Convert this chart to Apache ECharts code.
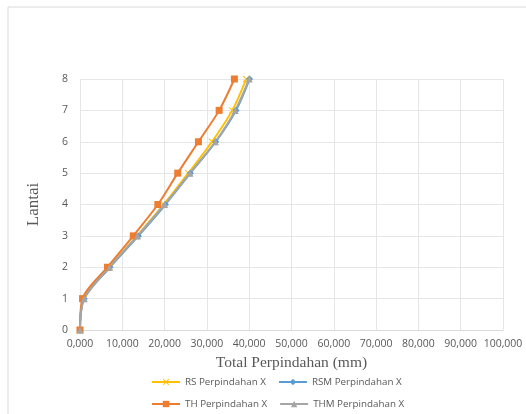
<!DOCTYPE html>
<html>
<head>
<meta charset="utf-8">
<script src="https://cdn.jsdelivr.net/npm/echarts@6/dist/echarts.min.js"></script>
<style>html,body{margin:0;padding:0;background:#fff}#c{width:526px;height:414px}</style>
</head>
<body>
<div id="c"></div>
<script>
var floors = [0, 1, 2, 3, 4, 5, 6, 7, 8];
var rsX  = [0, 0.9, 6.9, 13.5, 19.8, 25.6, 31.2, 36.0, 39.3];
var rsmX = [0, 1.0, 7.1, 13.8, 20.2, 26.1, 32.1, 36.9, 40.1];
var thX  = [0, 0.6, 6.5, 12.6, 18.4, 23.1, 28.0, 32.9, 36.5];
var thmX = [0, 1.0, 7.0, 13.6, 20.0, 26.0, 32.0, 36.7, 40.0];
var xTicks = [0, 10, 20, 30, 40, 50, 60, 70, 80, 90, 100];
var names = ['RS Perpindahan X', 'RSM Perpindahan X', 'TH Perpindahan X', 'THM Perpindahan X'];
var colors = ['#FFC000', '#5B9BD5', '#ED7D31', '#A5A5A5'];

function pairs(xs) { return xs.map(function (v, i) { return [v, floors[i]]; }); }
var crossPath = 'path://M0,1L1,0L5,4L9,0L10,1L6,5L10,9L9,10L5,6L1,10L0,9L4,5Z';
var symbols = [crossPath, 'diamond', 'rect', 'triangle'];
var sizes = [7, 7, 7, 7];
var xs = [rsX, rsmX, thX, thmX];

var chart = echarts.init(document.getElementById('c'));
var labelFont = '"Open Sans", "Liberation Sans", sans-serif';
var legendText = {color: '#595959', fontSize: 9.8, fontFamily: labelFont};
chart.setOption({
  animation: false,
  graphic: [{
    type: 'rect', shape: {x: 8, y: 7, width: 530, height: 420},
    style: {fill: 'none', stroke: '#d9d9d9', lineWidth: 1}, silent: true
  }],
  grid: {left: 80, right: 23, top: 79, bottom: 84},
  legend: [{
    data: names.slice(0, 2), left: 146, top: 372, itemWidth: 28, itemHeight: 8, itemGap: 12,
    textStyle: legendText
  }, {
    data: names.slice(2, 4), left: 146, top: 394, itemWidth: 28, itemHeight: 8, itemGap: 12,
    textStyle: legendText
  }],
  xAxis: {
    type: 'value', min: 0, max: 100, interval: 10,
    name: 'Total Perpindahan (mm)', nameLocation: 'middle', nameGap: 25,
    nameTextStyle: {fontFamily: '"Liberation Serif", serif', fontSize: 15.5, color: '#595959'},
    axisLine: {lineStyle: {color: '#d9d9d9'}},
    axisTick: {show: false},
    axisLabel: {color: '#595959', fontSize: 10.5, fontFamily: labelFont, margin: 9,
      formatter: function (v) { return v.toFixed(3).replace('.', ','); }},
    splitLine: {lineStyle: {color: '#e6e6e6'}}
  },
  yAxis: {
    type: 'value', min: 0, max: 8, interval: 1,
    name: 'Lantai', nameLocation: 'middle', nameGap: 38,
    nameTextStyle: {fontFamily: '"Liberation Serif", serif', fontSize: 17, color: '#595959'},
    axisLine: {show: false}, axisTick: {show: false},
    axisLabel: {color: '#595959', fontSize: 10.5, fontFamily: labelFont, margin: 12},
    splitLine: {lineStyle: {color: '#e6e6e6'}}
  },
  series: names.map(function (n, i) {
    return {
      name: n, type: 'line', smooth: 0.3, data: pairs(xs[i]),
      symbol: symbols[i], symbolSize: sizes[i],
      lineStyle: {color: colors[i], width: 2},
      itemStyle: {color: colors[i]}
    };
  })
});
</script>
</body>
</html>
